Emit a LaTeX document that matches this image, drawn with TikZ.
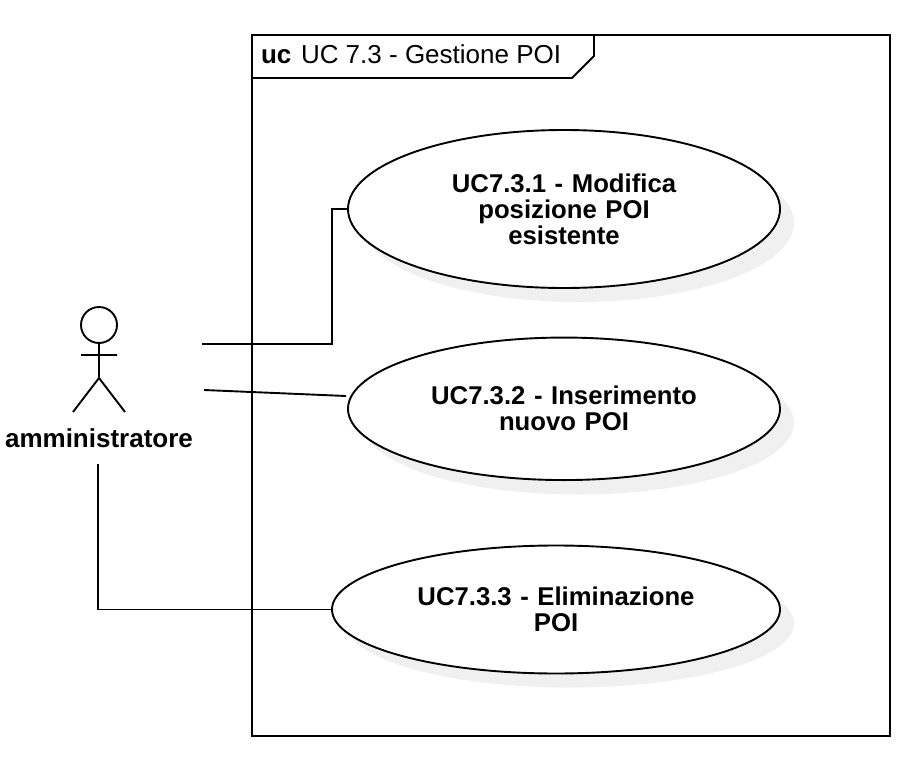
\documentclass[tikz,border=0pt]{standalone}
\usepackage{fontspec}
\setmainfont{Liberation Sans}
\usetikzlibrary{shapes.geometric}
\begin{document}
\begin{tikzpicture}[x=1pt,y=-1pt,
 every node/.style={inner sep=0pt,outer sep=0pt},
 ln/.style={draw=black,line width=1.9pt},
 shad/.style={fill=black!6},
 lab/.style={font=\fontsize{25.7}{26}\selectfont\bfseries,align=center},
 ttl/.style={font=\fontsize{26}{26}\selectfont,anchor=base west}]
\useasboundingbox (0,0) rectangle (922,774);
\fill[white] (0,0) rectangle (922,774);
% frame
\draw[ln] (252,35) rectangle (890,736);
\draw[ln] (252,78) -- (572,78) -- (594,56) -- (594,35);
\node[ttl,font=\fontsize{26}{26}\selectfont\bfseries] (uct) at (261,63) {uc};
\node[ttl] (title) at (301,63) {UC 7.3 - Gestione POI};
% shadows
\fill[shad] (578,223) ellipse [x radius=216,y radius=79];
\fill[shad] (578,423) ellipse [x radius=216,y radius=71.5];
\fill[shad] (570,623.5) ellipse [x radius=224,y radius=64];
% use cases
\node[ellipse,ln,fill=white,minimum width=432pt,minimum height=158pt,text width=300pt,lab] (u1) at (564,209) {UC7.3.1 - Modifica\\posizione POI\\esistente};
\node[ellipse,ln,fill=white,minimum width=432pt,minimum height=142.5pt,text width=300pt,lab] (u2) at (564,408.8) {UC7.3.2 - Inserimento\\nuovo POI};
\node[ellipse,ln,fill=white,minimum width=448pt,minimum height=128pt,text width=300pt,lab] (u3) at (556,609.5) {UC7.3.3 - Eliminazione\\POI};
% actor
\draw[line width=1.9pt] (99,325) circle (18);
\draw[ln] (99,343) -- (99,378) (81,355) -- (117,355) (73,412) -- (99,378) -- (125,412);
\node[font=\fontsize{26}{26}\selectfont\bfseries,anchor=base] (actor) at (99,447) {amministratore};
\coordinate (a1) at (202,344);
\coordinate (a2) at (204,390);
\coordinate (a3) at (98,464);
% connectors
\draw[ln] (a1) -- (332,344) -- (332,209) -- (u1.west);
\draw[ln] (a2) -- ([xshift=-2pt,yshift=12.8pt]u2.west);
\draw[ln] (a3) -- (98,609.5) -- (u3.west);
\end{tikzpicture}
\end{document}
